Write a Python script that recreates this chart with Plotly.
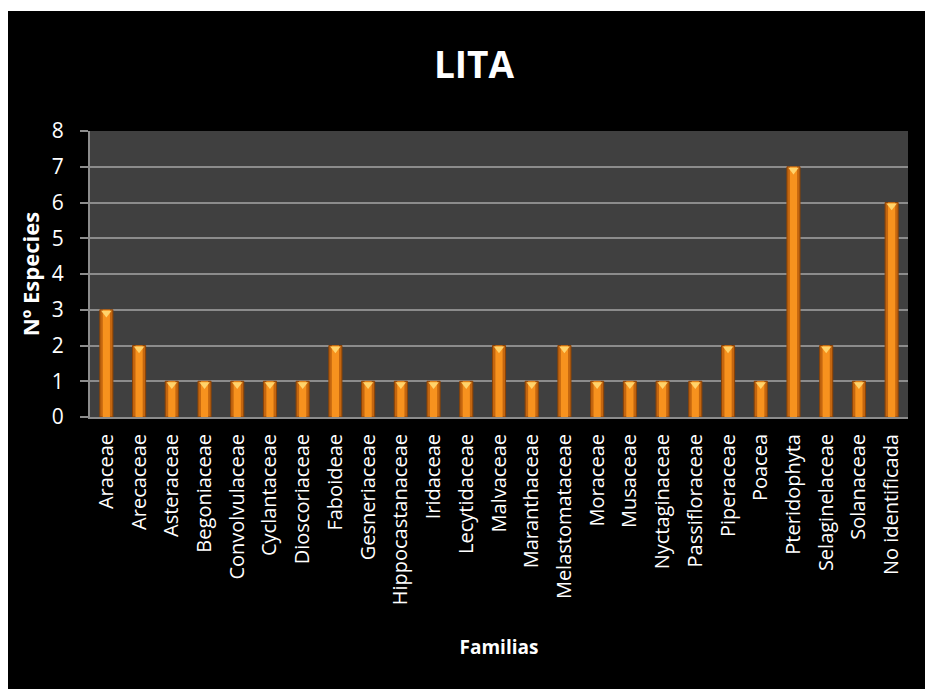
import plotly.graph_objects as go

familias = ["Araceae", "Arecaceae", "Asteraceae", "Begoniaceae", "Convolvulaceae",
            "Cyclantaceae", "Dioscoriaceae", "Faboideae", "Gesneriaceae", "Hippocastanaceae",
            "Iridaceae", "Lecytidaceae", "Malvaceae", "Maranthaceae", "Melastomataceae",
            "Moraceae", "Musaceae", "Nyctaginaceae", "Passifloraceae", "Piperaceae",
            "Poacea", "Pteridophyta", "Selaginelaceae", "Solanaceae", "No identificada"]
especies = [3, 2, 1, 1, 1, 1, 1, 2, 1, 1, 1, 1, 2, 1, 2, 1, 1, 1, 1, 2, 1, 7, 2, 1, 6]
y_ticks = [0, 1, 2, 3, 4, 5, 6, 7, 8]

FONT = "Open Sans"
W, H = 926, 689
L, R, T, B = 90, 18, 131, 272
pw, ph = W - L - R, H - T - B

fig = go.Figure()
fig.add_trace(go.Bar(x=familias, y=especies, width=0.4,
                     marker=dict(color="#C4660F", line=dict(color="#8A4206", width=1)),
                     hoverinfo="skip"))
fig.add_trace(go.Bar(x=familias, y=especies, width=0.22,
                     marker=dict(color="#F7921E", line=dict(width=0)),
                     hoverinfo="skip"))
fig.add_trace(go.Scatter(x=familias, y=[v - 0.09 for v in especies], mode="markers",
                         marker=dict(symbol="triangle-down", size=9, color="#FFD36B",
                                     line=dict(width=0)),
                         hoverinfo="skip"))

def px_to_paper_x(p):
    return (p - L) / pw

def px_to_paper_y(p):
    return (H - B - p) / ph

fig.update_layout(
    width=W, height=H,
    margin=dict(l=L, r=R, t=T, b=B),
    paper_bgcolor="black",
    plot_bgcolor="#404040",
    barmode="overlay",
    showlegend=False,
    font=dict(family=FONT, color="white", size=19),
    title=dict(text="<b>LITA</b>", x=474 / W, xanchor="center",
               y=1 - 65 / H, yanchor="middle", yref="container",
               font=dict(size=37, family=FONT, color="white")),
    xaxis=dict(
        range=[-0.5, len(familias) - 0.5],
        tickangle=-90, tickfont=dict(size=20, family=FONT, color="white"),
        showline=True, linecolor="#8C8C8C", linewidth=2,
        ticks="", showgrid=False,
        ticklabelstandoff=7,
        title=dict(text="<b>Familias</b>", font=dict(size=19, family=FONT, color="white"),
                   standoff=36),
        automargin=False,
    ),
    yaxis=dict(
        range=[0, 8], tickvals=y_ticks, ticktext=[str(v) for v in y_ticks],
        tickfont=dict(size=21, family=FONT, color="white"),
        showline=True, linecolor="#8C8C8C", linewidth=2,
        ticks="outside", ticklen=8, tickcolor="#8C8C8C", tickwidth=2,
        ticklabelstandoff=12,
        showgrid=True, gridcolor="#8C8C8C", gridwidth=2, zeroline=False,
        title=dict(text="<b>Nº Especies</b>", font=dict(size=22, family=FONT, color="white"),
                   standoff=6),
        automargin=False,
    ),
    shapes=[
        dict(type="rect", xref="paper", yref="paper", layer="above",
             x0=px_to_paper_x(-5), x1=px_to_paper_x(8), y0=px_to_paper_y(700), y1=px_to_paper_y(-5),
             fillcolor="white", line=dict(width=0)),
        dict(type="rect", xref="paper", yref="paper", layer="above",
             x0=px_to_paper_x(-5), x1=px_to_paper_x(935), y0=px_to_paper_y(11), y1=px_to_paper_y(-5),
             fillcolor="white", line=dict(width=0)),
        dict(type="rect", xref="paper", yref="paper", layer="above",
             x0=px_to_paper_x(925), x1=px_to_paper_x(935), y0=px_to_paper_y(700), y1=px_to_paper_y(-5),
             fillcolor="white", line=dict(width=0)),
    ],
)

fig.write_html("out.html")
